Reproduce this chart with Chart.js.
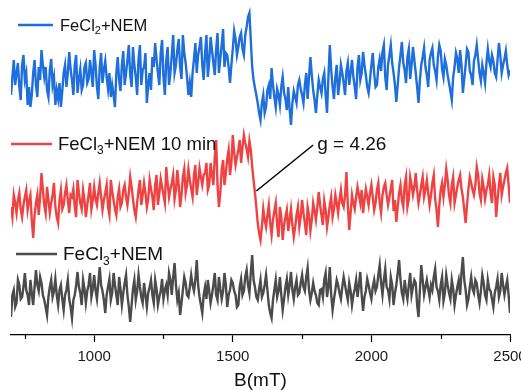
<!DOCTYPE html>
<html>
<head>
<meta charset="utf-8">
<script src="https://cdn.jsdelivr.net/npm/chart.js@4/dist/chart.umd.min.js"></script>
<style>
  html, body { margin: 0; padding: 0; background: #fff; }
  #wrap { width: 521px; height: 390px; }
</style>
</head>
<body>
<div id="wrap"><canvas id="c" width="521" height="390"></canvas></div>
<script>
// Magnetic field axis (mT): one reading every 5 mT from 700 to 2500
const fieldStart = 700, fieldStep = 5;
const xTickValues = [750, 1000, 1250, 1500, 1750, 2000, 2250, 2500];
const xTickLabels = ['', '1000', '', '1500', '', '2000', '', '2500'];
const xTitle = 'B(mT)';

const seriesNames = ['FeCl2+NEM', 'FeCl3+NEM 10 min', 'FeCl3+NEM'];
const annotationText = 'g = 4.26';
const annotationField = 1585, annotationValue = 144;
const annotationTextField = 1790, annotationTextValue = 190;

// EPR intensity (a.u., stacked with offsets)
const feCl2NEM = [
240,258,275,250,262,272,248,235,270,280,255,262,230,248,228,240,262,275,250,238,
268,255,285,270,258,268,245,238,265,276,250,258,230,245,236,252,228,244,262,270,
248,262,283,266,255,240,270,280,242,256,266,245,250,268,272,252,256,275,262,248,
285,270,248,236,268,282,252,265,274,258,246,262,238,250,240,228,262,278,255,244,
270,284,250,262,275,290,260,248,288,270,258,240,276,290,250,265,268,282,232,250,
262,245,278,268,292,276,262,250,282,295,258,240,274,288,250,262,280,300,262,270,
285,296,268,256,300,282,272,258,240,252,238,262,276,292,262,280,288,298,270,255,
282,300,258,274,298,285,272,260,286,302,262,276,290,306,268,282,280,268,252,270,
286,304,296,280,288,298,302,286,280,300,308,318,322,295,268,255,247,240,232,222,
215,232,240,222,228,245,250,236,267,250,238,228,246,240,230,248,258,242,236,225,
248,226,210,232,244,238,232,250,255,246,240,232,250,262,236,258,278,260,245,235,
222,240,255,248,242,256,262,240,222,258,290,265,248,236,258,270,240,252,270,262,
252,240,264,272,250,262,275,258,248,236,268,280,255,262,283,270,260,248,242,255,
270,282,262,248,250,268,276,264,283,290,258,245,270,280,290,272,262,250,233,250,
268,280,293,272,265,252,278,286,256,270,288,275,262,248,232,255,270,278,287,268,
260,248,275,282,287,270,264,255,278,290,284,266,258,276,270,260,252,244,235,258,
268,282,276,262,285,270,242,256,270,286,283,264,260,250,274,280,290,276,262,254,
270,262,252,272,286,274,268,280,274,262,258,275,292,280,262,270,276,284,270,260,
265];
const feCl3NEM10 = [
128,118,140,132,122,135,142,126,118,130,138,145,125,134,140,115,97,120,132,140,
120,138,162,145,130,122,148,135,122,132,140,152,128,118,112,135,145,126,130,142,
150,135,122,140,138,146,128,118,155,142,132,126,145,135,118,130,140,152,126,135,
148,136,130,142,152,138,125,135,142,150,128,120,155,144,135,126,120,138,146,128,
132,145,150,138,130,142,158,148,136,125,118,132,145,155,130,140,152,142,128,136,
155,146,138,125,150,160,130,142,156,148,140,132,168,152,138,146,152,160,136,145,
165,150,128,140,158,166,142,150,166,155,146,138,160,170,140,152,167,158,150,160,
162,172,145,150,172,160,150,178,195,150,128,142,165,175,150,162,176,185,160,172,
200,182,170,178,185,195,172,188,200,192,186,178,194,185,168,155,142,128,112,102,
95,108,126,115,108,120,130,112,100,115,124,132,110,98,128,118,95,110,118,125,
104,115,126,110,98,108,120,128,108,118,135,122,112,100,128,120,104,115,132,124,
115,128,143,130,120,110,134,125,108,118,130,138,118,126,140,132,122,135,145,132,
128,140,163,130,105,122,140,132,126,138,148,140,132,145,122,135,146,138,130,142,
150,138,125,132,145,152,132,122,140,148,152,140,130,138,146,155,124,135,113,128,
142,150,135,128,150,158,128,136,158,150,140,148,162,145,132,140,150,158,138,145,
155,142,130,140,152,160,136,125,108,130,145,152,138,150,166,155,140,132,150,158,
132,140,148,155,160,146,138,125,112,130,146,158,152,145,140,150,168,160,142,135,
156,148,136,145,150,160,142,132,158,150,118,135,150,162,140,148,155,162,167,150,
132];
const feCl3NEM = [
18,40,45,28,32,55,50,36,38,48,62,45,40,30,55,42,30,48,65,50,
44,58,52,40,35,28,20,38,48,55,38,44,56,40,30,45,50,36,25,40,
45,55,36,28,17,35,40,50,63,48,42,30,55,46,32,44,50,62,38,46,
60,45,36,52,68,50,44,35,22,40,48,56,35,42,62,50,40,30,58,46,
30,42,52,60,40,28,13,30,46,55,35,44,60,48,38,32,52,40,28,42,
48,55,40,32,55,46,30,38,44,56,36,45,50,40,62,55,40,58,72,50,
35,42,20,32,45,58,52,40,38,48,60,50,44,55,75,50,38,30,22,40,
48,36,55,44,32,40,50,62,40,35,58,46,36,44,62,50,28,40,45,55,
52,44,40,28,30,48,56,40,44,58,65,50,42,62,80,55,48,38,35,46,
55,38,42,50,60,45,30,22,17,35,45,55,38,44,58,40,25,36,48,56,
40,50,63,45,36,48,55,40,42,52,60,48,44,58,67,45,35,42,52,44,
40,32,30,45,46,38,55,62,38,48,68,40,25,36,45,55,50,42,36,48,
58,50,42,35,52,44,30,40,46,55,38,50,63,40,24,38,44,56,50,42,
36,48,55,44,48,60,70,52,40,55,66,48,45,36,58,50,30,42,50,62,
75,55,42,36,55,44,36,50,62,40,48,55,52,30,18,45,70,55,40,48,
55,46,38,50,45,58,66,48,44,35,50,58,34,42,60,50,42,36,55,46,
30,40,48,55,40,62,78,55,45,30,36,48,58,46,42,55,52,40,32,44,
60,52,40,35,55,46,44,36,28,42,48,56,38,44,62,50,40,48,55,40,
22];

const seriesValues = [feCl2NEM, feCl3NEM10, feCl3NEM];
const seriesColors = ['#1E6FDC', '#EF4343', '#4B4B4B'];

const toPoints = arr => arr.map((v, i) => ({ x: fieldStart + i * fieldStep, y: v }));

const FONT = "'Liberation Sans', Arial, Helvetica, sans-serif";
Chart.defaults.font.family = FONT;

// legend entries drawn in the plot: line start/end, row y, text x, font size
const legendLayout = [
  { x0: 18, x1: 53, y: 25, tx: 60, size: 16.5, base: 'FeCl', sub: '2', rest: '+NEM' },
  { x0: 11, x1: 52, y: 144, tx: 58, size: 18.5, base: 'FeCl', sub: '3', rest: '+NEM 10 min' },
  { x0: 16, x1: 57, y: 254, tx: 63, size: 19, base: 'FeCl', sub: '3', rest: '+NEM' }
];

const overlay = {
  id: 'overlay',
  afterDatasetsDraw(chart) {
    const ctx = chart.ctx;
    const xs = chart.scales.x, ys = chart.scales.y;
    ctx.save();
    // minor ticks
    ctx.strokeStyle = '#000';
    ctx.lineWidth = 1.2;
    const axisY = chart.chartArea.bottom;
    xTickValues.forEach((v, k) => {
      if (xTickLabels[k] === '') {
        const px = Math.round(xs.getPixelForValue(v)) + 0.5;
        ctx.beginPath(); ctx.moveTo(px, axisY); ctx.lineTo(px, axisY + 4); ctx.stroke();
      }
    });
    // legend
    legendLayout.forEach((L, k) => {
      ctx.strokeStyle = seriesColors[k];
      ctx.lineWidth = 2.4;
      ctx.beginPath(); ctx.moveTo(L.x0, L.y); ctx.lineTo(L.x1, L.y); ctx.stroke();
      ctx.fillStyle = '#111';
      ctx.textBaseline = 'alphabetic';
      ctx.textAlign = 'left';
      const base = L.y + L.size * 0.34;
      ctx.font = L.size + 'px ' + FONT;
      ctx.fillText(L.base, L.tx, base);
      let x = L.tx + ctx.measureText(L.base).width;
      const ss = Math.round(L.size * 0.65);
      ctx.font = ss + 'px ' + FONT;
      ctx.fillText(L.sub, x, base + L.size * 0.22);
      x += ctx.measureText(L.sub).width;
      ctx.font = L.size + 'px ' + FONT;
      ctx.fillText(L.rest, x, base);
    });
    // annotation
    const ax = xs.getPixelForValue(annotationField), ay = ys.getPixelForValue(annotationValue);
    const tx = xs.getPixelForValue(annotationTextField), ty = ys.getPixelForValue(annotationTextValue);
    ctx.strokeStyle = '#000';
    ctx.lineWidth = 1.5;
    ctx.beginPath(); ctx.moveTo(ax, ay); ctx.lineTo(tx, ty); ctx.stroke();
    ctx.fillStyle = '#111';
    ctx.font = '19px ' + FONT;
    ctx.textBaseline = 'middle';
    ctx.fillText(annotationText, tx + 4, ty);
    ctx.restore();
  }
};

new Chart(document.getElementById('c'), {
  type: 'line',
  data: {
    datasets: seriesValues.map((arr, k) => ({
      label: seriesNames[k],
      data: toPoints(arr),
      borderColor: seriesColors[k],
      borderWidth: 2.4,
      pointRadius: 0,
      tension: 0,
      fill: false
    }))
  },
  options: {
    responsive: false,
    animation: false,
    devicePixelRatio: 1,
    layout: { padding: { left: 11, right: 11, top: 0, bottom: 0 } },
    plugins: { legend: { display: false }, tooltip: { enabled: false } },
    scales: {
      x: {
        type: 'linear',
        min: 700, max: 2500,
        afterBuildTicks: s => { s.ticks = xTickValues.map(v => ({ value: v })); },
        afterFit: s => { s.height = 55; s.paddingLeft = 0; s.paddingRight = 0; },
        ticks: {
          autoSkip: false, maxRotation: 0, padding: 6,
          color: '#1a1a1a', font: { size: 15 },
          callback: (v) => { const k = xTickValues.indexOf(v); return k >= 0 ? xTickLabels[k] : ''; }
        },
        grid: {
          drawOnChartArea: false, drawTicks: true, tickLength: 7, tickWidth: 1.2,
          tickColor: ctx => (ctx.tick && xTickLabels[xTickValues.indexOf(ctx.tick.value)] === '') ? 'rgba(0,0,0,0)' : '#000'
        },
        border: { display: true, color: '#000', width: 1.3 },
        title: { display: true, text: xTitle, color: '#111', font: { size: 19 }, padding: { top: 0, bottom: -2 } }
      },
      y: { display: false, min: 0, max: 335 }
    }
  },
  plugins: [overlay]
});
</script>
</body>
</html>
